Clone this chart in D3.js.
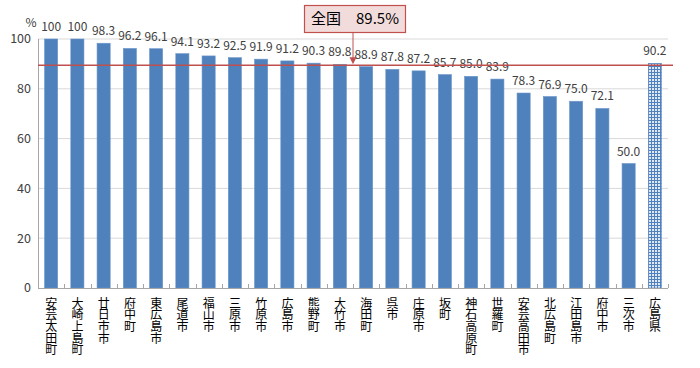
<!DOCTYPE html>
<html><head><meta charset="utf-8">
<script src="https://cdn.jsdelivr.net/npm/d3@7"></script>
<style>body{margin:0;background:#fff}svg{display:block}text{font-family:"Noto Sans CJK JP","Noto Sans",sans-serif}</style>
</head><body>
<svg id="c" width="700" height="368"></svg>
<script>
const categories = ["安芸太田町","大崎上島町","廿日市市","府中町","東広島市","尾道市","福山市","三原市","竹原市","広島市","熊野町","大竹市","海田町","呉市","庄原市","坂町","神石高原町","世羅町","安芸高田市","北広島町","江田島市","府中市","三次市","広島県"];
const values = [100,100,98.3,96.2,96.1,94.1,93.2,92.5,91.9,91.2,90.3,89.8,88.9,87.8,87.2,85.7,85.0,83.9,78.3,76.9,75.0,72.1,50.0,90.2];
const valueLabels = ["100","100","98.3","96.2","96.1","94.1","93.2","92.5","91.9","91.2","90.3","89.8","88.9","87.8","87.2","85.7","85.0","83.9","78.3","76.9","75.0","72.1","50.0","90.2"];
const yTicks = [0,20,40,60,80,100];
const nationalValue = 89.5;
const nationalLabel = "全国　89.5%";

const svg = d3.select("#c");
const L = 38, R = 668, T = 39, B = 288;
const x = d3.scaleBand().domain(categories).range([L, R]).paddingInner(0.5).paddingOuter(0.25);
const y = d3.scaleLinear().domain([0, 100]).range([B, T]);

const defs = svg.append("defs");
const pat = defs.append("pattern").attr("id","chk").attr("patternUnits","userSpaceOnUse").attr("width",3).attr("height",3);
pat.append("rect").attr("width",3).attr("height",3).attr("fill","#4f81bd");
pat.append("rect").attr("x",1).attr("y",1).attr("width",2).attr("height",2).attr("fill","#dfe8f4");

// gridlines
svg.append("g").selectAll("line").data(yTicks.filter(d=>d>0)).join("line")
  .attr("x1",L).attr("x2",R).attr("y1",d=>y(d)).attr("y2",d=>y(d))
  .attr("stroke","#d9d9d9").attr("stroke-width",1);

// y axis labels
svg.append("g").selectAll("text").data(yTicks).join("text")
  .attr("x",31).attr("y",d=>y(d)).attr("dy","0.35em").attr("text-anchor","end")
  .attr("font-size",12.5).attr("fill","#404040").text(d=>d);
svg.append("text").attr("x",31).attr("y",27).attr("text-anchor","middle").attr("font-size",12).attr("fill","#404040").text("%");

// bars
svg.append("g").selectAll("rect").data(categories).join("rect")
  .attr("x",d=>x(d)).attr("width",x.bandwidth())
  .attr("y",(d,i)=>y(values[i])).attr("height",(d,i)=>B - y(values[i]))
  .attr("fill",(d,i)=> i===categories.length-1 ? "url(#chk)" : "#4f81bd")
  .attr("stroke",(d,i)=> i===categories.length-1 ? "#4f81bd" : "#6a94c8").attr("stroke-width",0.6);

// axes lines
svg.append("line").attr("x1",L+0.5).attr("x2",L+0.5).attr("y1",T).attr("y2",B).attr("stroke","#a6a6a6");
svg.append("line").attr("x1",L).attr("x2",R).attr("y1",B+0.5).attr("y2",B+0.5).attr("stroke","#a6a6a6");
// ticks at category boundaries
const bounds = categories.map(c => x(c) - x.step()*x.paddingInner()/2).concat([R]);
svg.append("g").selectAll("line").data(bounds).join("line")
  .attr("x1",d=>Math.round(d)+0.5).attr("x2",d=>Math.round(d)+0.5).attr("y1",B-4).attr("y2",B)
  .attr("stroke","#a6a6a6");

// value labels
svg.append("g").selectAll("text").data(categories).join("text")
  .attr("x",d=>x(d)+x.bandwidth()/2).attr("y",(d,i)=>y(values[i])-8)
  .attr("text-anchor","middle").attr("font-size",12).attr("fill","#404040")
  .text((d,i)=>valueLabels[i]);

// category labels (vertical)
svg.append("g").selectAll("text").data(categories).join("text")
  .attr("x", d => x(d)+x.bandwidth()/2).attr("y", 297)
  .style("writing-mode","vertical-rl").style("letter-spacing","-0.3px")
  .attr("font-size",12).attr("fill","#000").text(d => d);

// national line
svg.append("line").attr("x1",L).attr("x2",673).attr("y1",y(nationalValue)).attr("y2",y(nationalValue))
  .attr("stroke","#c0504d").attr("stroke-width",1.5);

// callout
const ax = 353;
svg.append("line").attr("x1",ax).attr("x2",ax).attr("y1",32).attr("y2",y(nationalValue)-3).attr("stroke","#c0504d").attr("stroke-width",1);
svg.append("path").attr("d",`M${ax-3.5},${y(nationalValue)-8} L${ax+3.5},${y(nationalValue)-8} L${ax},${y(nationalValue)-1} Z`).attr("fill","#c0504d");
svg.append("rect").attr("x",304.5).attr("y",5.5).attr("width",101).attr("height",27).attr("fill","#f2dcdb").attr("stroke","#c0504d").attr("stroke-width",1.2);
svg.append("text").attr("x",355).attr("y",19).attr("dy","0.35em").attr("text-anchor","middle").attr("font-size",15).attr("fill","#000").text(nationalLabel);
</script>
</body></html>
